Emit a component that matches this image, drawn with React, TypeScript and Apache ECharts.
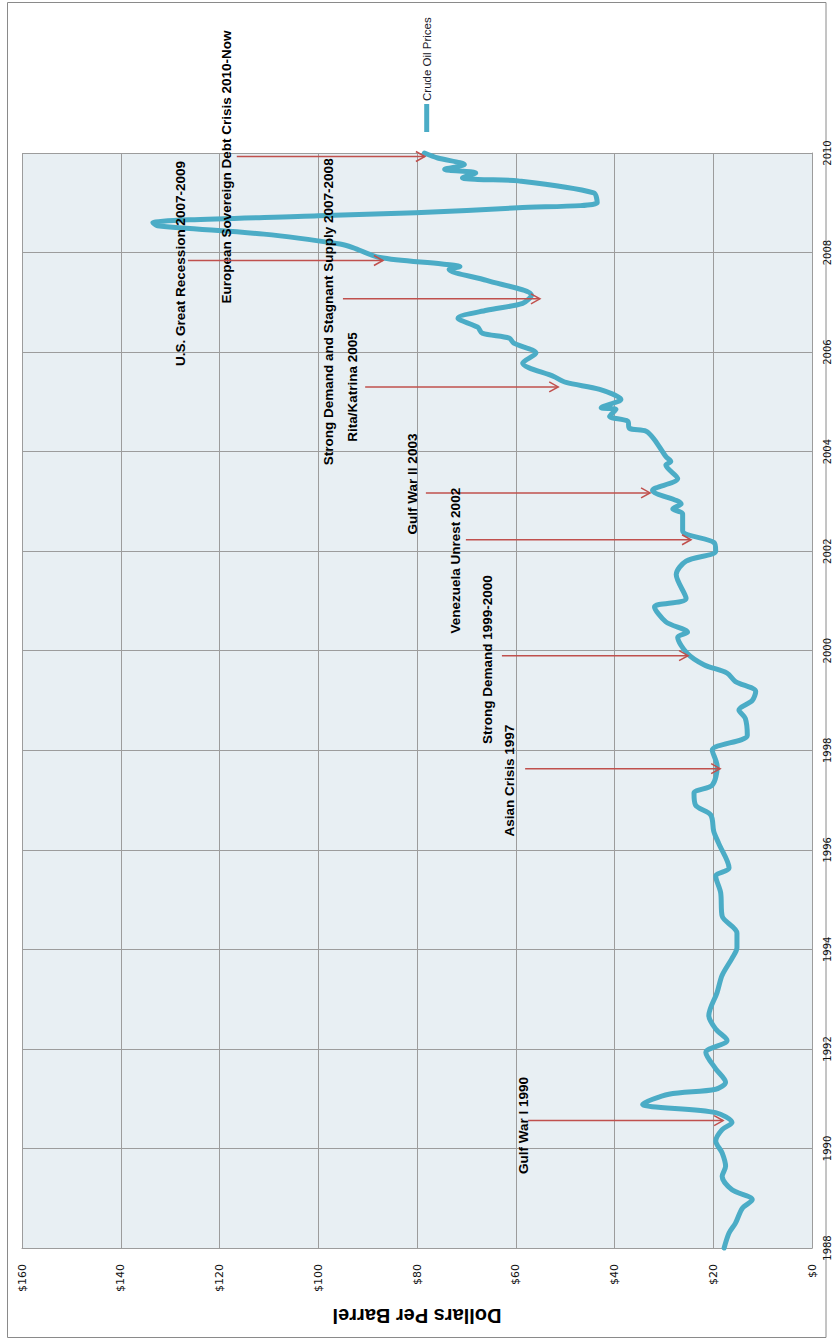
import React, { useEffect, useRef } from "react";
import * as echarts from "echarts";

// Crude oil price series (decimal year, dollars per barrel)
const years = [
  1988.0, 1988.3, 1988.5, 1988.8, 1988.97, 1989.17, 1989.44, 1989.64, 1989.91, 1990.15,
  1990.38, 1990.52, 1990.72, 1990.89, 1991.09, 1991.19, 1991.33, 1991.6, 1991.93, 1992.17,
  1992.4, 1992.67, 1993.14, 1993.48, 1993.82, 1994.03, 1994.33, 1994.67, 1995.14, 1995.47,
  1995.64, 1996.13, 1996.37, 1996.7, 1996.9, 1997.14, 1997.3, 1997.68, 1998.0, 1998.3,
  1998.64, 1998.81, 1999.0, 1999.18, 1999.38, 1999.55, 1999.72, 1999.95, 2000.27, 2000.37,
  2000.58, 2000.88, 2001.05, 2001.53, 2001.8, 2002.0, 2002.17, 2002.41, 2002.75, 2002.85,
  2002.95, 2003.22, 2003.46, 2003.73, 2003.8, 2003.9, 2004.24, 2004.41, 2004.47, 2004.61,
  2004.71, 2004.85, 2004.88, 2005.05, 2005.25, 2005.39, 2005.51, 2005.78, 2005.98, 2006.18,
  2006.28, 2006.38, 2006.5, 2006.68, 2006.84, 2006.98, 2007.14, 2007.44, 2007.66, 2007.72,
  2007.77, 2007.9, 2008.1, 2008.17, 2008.37, 2008.54, 2008.6, 2008.74, 2008.8, 2008.9,
  2009.0, 2009.2, 2009.44, 2009.47, 2009.5, 2009.6, 2009.67, 2009.77, 2009.9, 2010.0,
];
const prices = [
  17.8, 16.8, 15.5, 14.1, 12.1, 16.2, 18.2, 17.5, 18.2, 19.5,
  18.2, 16.2, 19.5, 34.3, 29.0, 19.5, 17.5, 19.5, 21.5, 17.2,
  19.5, 20.9, 19.2, 18.2, 16.2, 15.2, 15.2, 18.2, 18.5, 19.5,
  16.8, 18.9, 19.9, 20.5, 23.6, 23.9, 20.2, 19.2, 20.2, 13.1,
  13.5, 14.8, 12.1, 11.4, 15.5, 17.2, 21.9, 25.3, 27.2, 25.2,
  29.6, 31.9, 25.5, 27.5, 25.5, 19.5, 19.8, 26.2, 26.2, 28.2,
  26.5, 32.3, 27.2, 29.6, 28.6, 29.6, 31.9, 33.6, 37.0, 37.3,
  41.0, 39.7, 42.7, 38.7, 43.0, 49.8, 52.3, 58.6, 55.9, 60.4,
  61.3, 66.8, 67.7, 71.7, 65.9, 58.6, 56.8, 65.9, 73.5, 71.3,
  74.9, 87.5, 93.0, 95.6, 111.0, 132.6, 133.5, 100.0, 80.3, 59.5,
  43.5, 44.2, 59.5, 67.7, 70.8, 68.1, 74.4, 70.4, 75.8, 78.5,
];

// Axis ranges
const yearMin = 1988;
const yearMax = 2010;
const yearStep = 2;
const priceMin = 0;
const priceMax = 160;
const priceStep = 20;

// Event annotations
const eventLabels = [
  "European Sovereign Debt Crisis 2010-Now",
  "U.S. Great Recession 2007-2009",
  "Strong Demand and Stagnant Supply 2007-2008",
  "Rita/Katrina 2005",
  "Gulf War II 2003",
  "Venezuela Unrest 2002",
  "Strong Demand 1999-2000",
  "Asian Crisis 1997",
  "Gulf War I 1990",
];
const eventYears = [2009.93, 2007.84, 2007.07, 2005.3, 2003.17, 2002.23, 1999.9, 1997.63, 1990.56];
const eventFromPrices = [116.5, 126.4, 95.0, 90.5, 78.2, 70.1, 62.8, 58.1, 57.5];
const eventToPrices = [78.4, 86.9, 55.1, 51.4, 32.8, 24.5, 25.1, 18.6, 18.0];
const eventLabelYears = [2009.72, 2007.78, 2006.81, 2005.3, 2003.35, 2001.81, 1999.82, 1997.39, 1990.46];
const eventLabelPrices = [118.5, 128.0, 98.0, 93.0, 81.0, 72.3, 65.8, 61.2, 58.5];

const seriesName = "Crude Oil Prices";
const axisTitle = "Dollars Per Barrel";

const LINE_COLOR = "#4BACC6";
const ARROW_COLOR = "#C0504D";
const GRID_COLOR = "#9c9c9c";

export default function App() {
  const ref = useRef<HTMLDivElement>(null);

  useEffect(() => {
    document.body.style.margin = "0";
    if (!ref.current) return;
    const chart = echarts.init(ref.current, null, { renderer: "svg" });

    const lineData = years.map((y, i) => [prices[i], y]);
    const eventData = eventYears.map((y, i) => [
      eventFromPrices[i],
      y,
      eventToPrices[i],
      eventLabelPrices[i],
      eventLabelYears[i],
    ]);

    const option: any = {
      animation: false,
      backgroundColor: "#ffffff",
      grid: {
        left: 22,
        right: 28,
        top: 153,
        bottom: 94,
        show: true,
        backgroundColor: "#E8EFF3",
        borderWidth: 0,
      },
      xAxis: {
        type: "value",
        min: priceMin,
        max: priceMax,
        interval: priceStep,
        inverse: true,
        position: "bottom",
        axisLine: { show: true, onZero: false, lineStyle: { color: GRID_COLOR } },
        axisTick: { show: false },
        splitLine: { show: true, lineStyle: { color: GRID_COLOR, width: 1 } },
        axisLabel: {
          rotate: 90,
          margin: 16,
          formatter: (v: number) => "$" + v,
          fontFamily: "DejaVu Sans",
          fontSize: 11,
          color: "#111111",
        },
      },
      yAxis: {
        type: "value",
        min: yearMin,
        max: yearMax,
        interval: yearStep,
        position: "right",
        axisLine: { show: true, onZero: false, lineStyle: { color: GRID_COLOR } },
        axisTick: { show: false },
        splitLine: { show: true, lineStyle: { color: GRID_COLOR, width: 1 } },
        axisLabel: {
          rotate: 90,
          margin: 10,
          formatter: (v: number) => String(v),
          fontFamily: "DejaVu Sans",
          fontSize: 10,
          color: "#111111",
        },
      },
      series: [
        {
          name: seriesName,
          type: "line",
          data: lineData,
          symbol: "none",
          showSymbol: false,
          smooth: 0.3,
          clip: false,
          lineStyle: { color: LINE_COLOR, width: 5, cap: "round", join: "round" },
          z: 2,
        },
        {
          type: "custom",
          data: eventData,
          clip: false,
          z: 3,
          renderItem: (params: any, api: any) => {
            const idx = params.dataIndex;
            const y = api.value(1);
            const p1 = api.coord([api.value(0), y]);
            const p2 = api.coord([api.value(2), y]);
            const pt = api.coord([api.value(3), api.value(4)]);
            return {
              type: "group",
              children: [
                {
                  type: "line",
                  shape: { x1: p1[0], y1: p1[1], x2: p2[0], y2: p2[1] },
                  style: { stroke: ARROW_COLOR, lineWidth: 1.5 },
                },
                {
                  type: "polyline",
                  shape: {
                    points: [
                      [p2[0] - 9, p2[1] - 5],
                      [p2[0], p2[1]],
                      [p2[0] - 9, p2[1] + 5],
                    ],
                  },
                  style: { stroke: ARROW_COLOR, lineWidth: 1.5, fill: "none" },
                },
                {
                  type: "text",
                  x: pt[0],
                  y: pt[1],
                  rotation: Math.PI / 2,
                  style: {
                    text: eventLabels[idx],
                    fill: "#000000",
                    fontFamily: "Liberation Sans",
                    fontWeight: "bold",
                    fontSize: 13.5,
                    align: "center",
                    verticalAlign: "middle",
                  },
                },
              ],
            };
          },
        },
      ],
      graphic: [
        {
          type: "rect",
          shape: { x: 7.5, y: 2.5, width: 818.5, height: 1335 },
          style: { fill: "none", stroke: "#8a8a8a", lineWidth: 1 },
          silent: true,
          z: -1,
        },
        {
          type: "line",
          shape: { x1: 426.7, y1: 104, x2: 426.7, y2: 132 },
          style: { stroke: LINE_COLOR, lineWidth: 5 },
        },
        {
          type: "text",
          x: 426.7,
          y: 101,
          rotation: Math.PI / 2,
          style: {
            text: seriesName,
            fill: "#1a1a2a",
            fontFamily: "Liberation Sans",
            fontSize: 11.5,
            align: "left",
            verticalAlign: "middle",
          },
        },
        {
          type: "text",
          x: 417,
          y: 1316,
          rotation: Math.PI,
          style: {
            text: axisTitle,
            fill: "#000000",
            fontFamily: "Liberation Sans",
            fontWeight: "bold",
            fontSize: 20,
            align: "center",
            verticalAlign: "middle",
          },
        },
      ],
    };

    chart.setOption(option);
    return () => {
      chart.dispose();
    };
  }, []);

  return <div ref={ref} style={{ width: 840, height: 1342 }} />;
}
